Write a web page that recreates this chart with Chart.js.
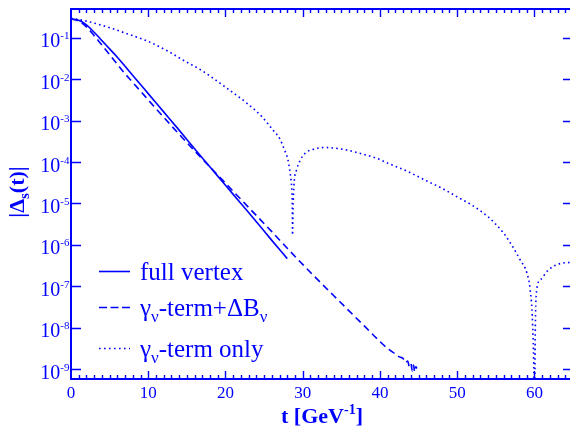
<!DOCTYPE html>
<html>
<head>
<meta charset="utf-8">
<script src="https://cdn.jsdelivr.net/npm/chart.js@4"></script>
<style>
  html, body { margin: 0; padding: 0; background: #fff; overflow: hidden; }
</style>
</head>
<body>
<canvas id="chart" width="570" height="427"></canvas>
<script>
// values, as t [GeV^-1] and log10 |Delta_s(t)|
var fullT   = [0, 1, 2, 3, 4, 5, 6, 7, 8, 10, 12, 14, 16, 18, 20, 22, 24, 26, 28];
var fullLog = [-0.55, -0.58, -0.69, -0.87, -1.07, -1.27, -1.47, -1.69, -1.91, -2.35, -2.79, -3.23, -3.68, -4.12, -4.56, -5.00, -5.44, -5.89, -6.33];

var dashT   = [0, 1, 2, 3, 4, 5, 6, 7, 8, 10, 12, 14, 16, 18, 20, 22, 24, 26, 28, 30, 32, 34, 36, 38, 40, 41, 42, 42.5, 43, 43.3, 43.6, 43.8, 44.0, 44.2, 44.35, 44.5, 44.65, 44.8];
var dashLog = [-0.55, -0.60, -0.74, -0.95, -1.18, -1.41, -1.64, -1.87, -2.08, -2.50, -2.92, -3.33, -3.73, -4.12, -4.51, -4.90, -5.29, -5.68, -6.08, -6.47, -6.85, -7.22, -7.59, -7.96, -8.33, -8.50, -8.63, -8.70, -8.74, -8.84, -8.80, -8.93, -8.86, -9.04, -8.90, -9.06, -8.94, -8.98];

var dotT   = [0, 2, 5, 7.5, 10, 12.5, 14.6, 17, 19.9, 22.7, 24.7, 25.3, 26.2, 27.07, 27.6, 28.1, 28.33, 28.5, 28.6, 28.66, 28.68, 28.75, 28.82, 28.9, 29.2, 29.7, 30.3, 31.4, 32.9, 34.4, 35.7, 37.4, 39.6, 40.8, 43.5, 46, 48, 50, 52, 54, 55, 56, 56.78, 57.5, 58.16, 59.03, 59.46, 59.76, 59.95, 60.0, 60.1, 60.3, 60.75, 61.83, 63.34, 65];
var dotLog = [-0.53, -0.60, -0.76, -0.92, -1.09, -1.32, -1.55, -1.80, -2.18, -2.57, -2.90, -3.03, -3.24, -3.45, -3.69, -3.95, -4.21, -4.45, -4.72, -5.20, -5.76, -5.10, -4.75, -4.47, -4.19, -3.95, -3.79, -3.69, -3.65, -3.67, -3.71, -3.79, -3.91, -4.01, -4.22, -4.45, -4.63, -4.84, -5.05, -5.32, -5.50, -5.71, -5.92, -6.14, -6.36, -6.68, -7.09, -7.89, -9.5, -11, -8.3, -7.09, -6.85, -6.60, -6.45, -6.42];

var xTickLabels = [0, 10, 20, 30, 40, 50, 60];
var yDecades = [-9, -8, -7, -6, -5, -4, -3, -2, -1];
var xFrameMax = 65; // the right frame edge sits just past the picture

var blue = '#0000ff';
var serif = "'Liberation Serif', 'Times New Roman', serif";

function toPoints(ts, logs) {
  return ts.map(function (t, i) { return { x: t, y: Math.pow(10, logs[i]) }; });
}

// draw text made of pieces (sub/superscripts)
function richText(ctx, parts, x, y, center) {
  var w = 0;
  parts.forEach(function (p) { ctx.font = p.font; p.w = ctx.measureText(p.t).width; w += p.w; });
  var cx = center ? x - w / 2 : x;
  parts.forEach(function (p) {
    ctx.font = p.font;
    ctx.fillText(p.t, cx, y + (p.dy || 0));
    cx += p.w;
  });
}

var framePlugin = {
  id: 'frame',
  afterDatasetsDraw: function (chart) {
    var ctx = chart.ctx, a = chart.chartArea;
    var xs = chart.scales.x, ys = chart.scales.y;
    var right = xs.getPixelForValue(xFrameMax);
    ctx.save();
    ctx.strokeStyle = blue;
    ctx.fillStyle = blue;
    ctx.lineWidth = 2;
    ctx.strokeRect(a.left, a.top, right - a.left, a.bottom - a.top);

    ctx.lineWidth = 1.4;
    ctx.beginPath();
    for (var t = 1; t < xFrameMax; t++) {
      var px = Math.round(xs.getPixelForValue(t)) + 0.5;
      var len = t % 10 === 0 ? 8 : 4;
      ctx.moveTo(px, a.bottom); ctx.lineTo(px, a.bottom - len);
      ctx.moveTo(px, a.top); ctx.lineTo(px, a.top + len);
    }
    yDecades.forEach(function (e) {
      var py = Math.round(ys.getPixelForValue(Math.pow(10, e))) + 0.5;
      ctx.moveTo(a.left, py); ctx.lineTo(a.left + 10, py);
      ctx.moveTo(right, py); ctx.lineTo(right - 10, py);
    });
    ctx.stroke();

    // y tick labels 10^n
    ctx.textBaseline = 'alphabetic';
    ctx.textAlign = 'left';
    yDecades.forEach(function (e) {
      var py = ys.getPixelForValue(Math.pow(10, e));
      ctx.font = '11px ' + serif;
      var ex = String(e);
      var we = ctx.measureText(ex).width;
      ctx.fillText(ex, 69.5 - we, py + 1.5);
      ctx.font = '20px ' + serif;
      var wb = ctx.measureText('10').width;
      ctx.fillText('10', 69.5 - we - wb, py + 9.5);
    });

    // x axis title
    var bold = 'bold 22px ' + serif;
    richText(ctx, [
      { t: 't [GeV', font: bold },
      { t: '-1', font: 'bold 14px ' + serif, dy: -9 },
      { t: ']', font: bold }
    ], 322, 423, true);

    // y axis title
    ctx.save();
    ctx.translate(24, 192);
    ctx.rotate(-Math.PI / 2);
    richText(ctx, [
      { t: '|\u0394', font: bold },
      { t: 's', font: 'bold 15px ' + serif, dy: 5 },
      { t: '(t)|', font: bold }
    ], 0, 0, true);
    ctx.restore();

    // legend
    var big = '25px ' + serif, small = '17px ' + serif;
    var rows = [
      { y: 271, dash: [], parts: [{ t: 'full vertex', font: big }] },
      { y: 307, dash: [8, 3.5], parts: [{ t: '\u03b3', font: big }, { t: '\u03bd', font: small, dy: 6 }, { t: '-term+\u0394B', font: big }, { t: '\u03bd', font: small, dy: 6 }] },
      { y: 348, dash: [1.6, 3.4], parts: [{ t: '\u03b3', font: big }, { t: '\u03bd', font: small, dy: 6 }, { t: '-term only', font: big }] }
    ];
    rows.forEach(function (r) {
      ctx.lineWidth = 1.6;
      ctx.setLineDash(r.dash);
      ctx.beginPath();
      ctx.moveTo(99, r.y + 0.5);
      ctx.lineTo(130, r.y + 0.5);
      ctx.stroke();
      ctx.setLineDash([]);
      richText(ctx, r.parts, 140, r.y + 8.5, false);
    });
    ctx.restore();
  }
};

var ctx = document.getElementById('chart').getContext('2d');
var chart = new Chart(ctx, {
  type: 'line',
  data: {
    datasets: [{
      label: 'full vertex',
      data: toPoints(fullT, fullLog),
      borderColor: blue,
      borderWidth: 1.6,
      cubicInterpolationMode: 'monotone'
    }, {
      label: 'gamma-term + dB',
      data: toPoints(dashT, dashLog),
      borderColor: blue,
      borderWidth: 1.6,
      borderDash: [7, 4.5],
      cubicInterpolationMode: 'monotone'
    }, {
      label: 'gamma-term only',
      data: toPoints(dotT, dotLog),
      borderColor: blue,
      borderWidth: 1.6,
      borderDash: [1.6, 3.2],
      cubicInterpolationMode: 'monotone'
    }]
  },
  options: {
    responsive: false,
    animation: false,
    layout: { padding: { top: 9, left: 0, right: 0, bottom: 0 } },
    elements: { point: { radius: 0 }, line: { fill: false } },
    plugins: { legend: { display: false }, tooltip: { enabled: false } },
    scales: {
      x: {
        type: 'linear',
        min: 0,
        max: 64.61,
        grid: { display: false, drawTicks: false },
        border: { display: false },
        ticks: {
          stepSize: 10,
          includeBounds: false,
          color: blue,
          padding: 4,
          maxRotation: 0,
          font: { family: serif, size: 17 },
          callback: function (v) { return xTickLabels.indexOf(v) >= 0 ? String(v) : ''; }
        },
        afterFit: function (s) { s.height = 48; }
      },
      y: {
        type: 'logarithmic',
        min: 5.83e-10,
        max: 0.492,
        grid: { display: false, drawTicks: false },
        border: { display: false },
        ticks: { display: false },
        afterFit: function (s) { s.width = 71; }
      }
    }
  },
  plugins: [framePlugin]
});
</script>
</body>
</html>
